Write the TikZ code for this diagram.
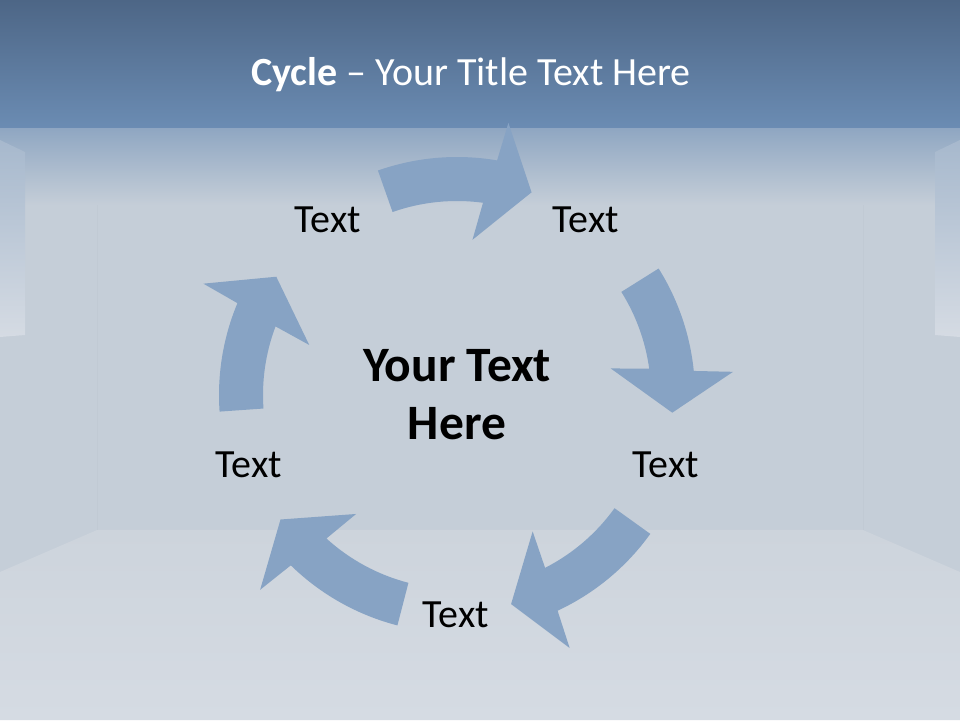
\documentclass[tikz,border=0pt]{standalone}
\usepackage{fontspec}
\setmainfont{Carlito}

\definecolor{bannertop}{HTML}{4D6686}
\definecolor{bannerbot}{HTML}{6B8CB3}
\definecolor{wallgray}{HTML}{C5CED8}
\definecolor{floortop}{HTML}{CDD4DC}
\definecolor{floorbot}{HTML}{D5DBE3}
\definecolor{panelgray}{HTML}{D5DBE3}
\definecolor{arrowblue}{HTML}{87A3C4}

\newcommand{\cyclearrow}[2]{%
  \pgfmathsetmacro{\headout}{#2+10.5}%
  \pgfmathsetmacro{\barbout}{#2+9.5}%
  \pgfmathsetmacro{\barbin}{#2+14.5}%
  \pgfmathsetmacro{\headin}{#2+12.5}%
  \fill[arrowblue] (#1:238) arc[start angle=#1, end angle=\headout, radius=238]
    -- (\barbout:277) -- (#2:216) -- (\barbin:156) -- (\headin:194)
    arc[start angle=\headin, end angle=#1, radius=194] -- cycle;}

\begin{document}
\begin{tikzpicture}[x=1pt, y=1pt,
  label/.style={font=\fontsize{40}{48}\selectfont, text=black},
  hub/.style={font=\fontsize{49.5}{58}\selectfont\bfseries, align=center, text=black},
  title/.style={font=\fontsize{40}{48}\selectfont, text=white}]

  \useasboundingbox (0,0) rectangle (960,720);

  \fill[wallgray] (0,0) rectangle (960,720);
  \shade[top color=floortop, bottom color=floorbot]
    (0,0) -- (0,148) -- (97,190) -- (863,190) -- (960,148) -- (960,0) -- cycle;
  \draw[black!2!wallgray, line width=1] (97,190) -- (97,560);
  \draw[black!2!wallgray, line width=1] (863,190) -- (863,560);
  \shade[top color=bannerbot!60!wallgray, bottom color=wallgray] (0,515) rectangle (960,592);
  \shade[top color=white!20!bannerbot!50!wallgray, bottom color=panelgray]
    (0,383) -- (25,385) -- (25,568) -- (0,580) -- cycle;
  \shade[top color=white!20!bannerbot!50!wallgray, bottom color=panelgray]
    (960,383) -- (935,385) -- (935,568) -- (960,580) -- cycle;
  \shade[top color=bannertop, bottom color=bannerbot] (0,592) rectangle (960,720);

  \node[title] (head) at (471,645) {\textbf{Cycle} -- Your Title Text Here};

  \coordinate (ctr) at (457,325);
  \begin{scope}[shift={(ctr)}]
    \cyclearrow{109.4}{69.8}
    \cyclearrow{32.1}{-4.7}
    \cyclearrow{-35.7}{-75.5}
    \cyclearrow{255.5}{215.2}
    \cyclearrow{184}{146.8}
  \end{scope}

  \node[hub] (core) at (ctr) {Your Text\\Here};

  \node[label] (tl) at (328,500) {Text};
  \node[label] (tr) at (586,500) {Text};
  \node[label] (rt) at (666,255) {Text};
  \node[label] (bt) at (456,105) {Text};
  \node[label] (lt) at (249,255) {Text};

\end{tikzpicture}
\end{document}
